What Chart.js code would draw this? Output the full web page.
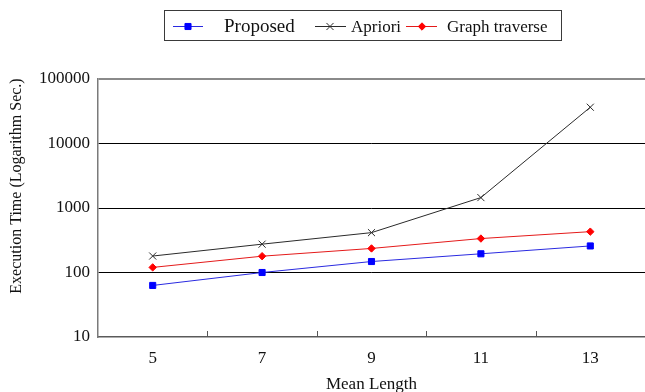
<!DOCTYPE html>
<html>
<head>
<meta charset="utf-8">
<script src="https://cdn.jsdelivr.net/npm/chart.js@4.4.1/dist/chart.umd.min.js"></script>
<style>
  html, body { margin: 0; padding: 0; background: #fff; overflow: hidden; }
  #wrap { width: 645px; height: 392px; position: relative; }
</style>
</head>
<body>
<div id="wrap"><canvas id="chart"></canvas></div>
<script>
// Mean pattern length on the x axis, execution time (seconds, log scale) on y.
const meanLength = [5, 7, 9, 11, 13];
const proposed = [63, 100, 148, 195, 258];
const apriori = [180, 275, 415, 1450, 36500];
const graphTraverse = [120, 179, 236, 336, 430];
const seriesNames = ['Proposed', 'Apriori', 'Graph traverse'];
const yTickValues = [10, 100, 1000, 10000, 100000];
const xLabelValues = [5, 7, 9, 11, 13];
const xMinorTicks = [6, 8, 10, 12];

const SERIF = '"Liberation Serif", "Times New Roman", serif';

function toPoints(values) {
  return meanLength.map((x, i) => ({ x: x, y: values[i] }));
}

// Boxed legend at the top: short line with the series marker, then its name.
const boxedLegend = {
  id: 'boxedLegend',
  afterDraw(chart, args, opts) {
    const ctx = chart.ctx;
    ctx.save();
    ctx.strokeStyle = '#3a3a3a';
    ctx.lineWidth = 1;
    ctx.strokeRect(opts.box.left + 0.5, opts.box.top + 0.5, opts.box.width, opts.box.height);
    chart.data.datasets.forEach((ds, i) => {
      const item = opts.items[i];
      ctx.strokeStyle = ds.borderColor;
      ctx.lineWidth = ds.borderWidth;
      ctx.beginPath();
      ctx.moveTo(item.lineStart, opts.lineY);
      ctx.lineTo(item.lineEnd, opts.lineY);
      ctx.stroke();
      ctx.fillStyle = ds.pointBackgroundColor;
      ctx.strokeStyle = ds.pointBorderColor;
      ctx.lineWidth = ds.pointBorderWidth;
      Chart.helpers.drawPoint(ctx, {
        pointStyle: ds.pointStyle,
        radius: ds.pointRadius,
        rotation: 0,
        borderWidth: ds.pointBorderWidth
      }, item.marker, opts.lineY);
      ctx.fillStyle = '#111';
      ctx.font = item.fontSize + 'px ' + SERIF;
      ctx.textAlign = 'left';
      ctx.textBaseline = 'alphabetic';
      ctx.fillText(ds.label, item.text, opts.textY);
    });
    ctx.restore();
  }
};

// Short inward tick marks on the x axis between the labelled values,
// plus the rotated y axis title.
const axisExtras = {
  id: 'axisExtras',
  afterDraw(chart, args, opts) {
    const ctx = chart.ctx;
    const xs = chart.scales.x;
    const area = chart.chartArea;
    ctx.save();
    ctx.strokeStyle = '#555';
    ctx.lineWidth = 1;
    xMinorTicks.forEach(v => {
      const px = Math.round(xs.getPixelForValue(v)) + 0.5;
      ctx.beginPath();
      ctx.moveTo(px, area.bottom);
      ctx.lineTo(px, area.bottom - opts.tickLength);
      ctx.stroke();
    });
    ctx.translate(opts.yTitleX, opts.yTitleY);
    ctx.rotate(-Math.PI / 2);
    ctx.fillStyle = '#111';
    ctx.font = opts.yTitleSize + 'px ' + SERIF;
    ctx.textAlign = 'center';
    ctx.textBaseline = 'middle';
    ctx.fillText(opts.yTitle, 0, 0);
    ctx.restore();
  }
};

new Chart(document.getElementById('chart'), {
  type: 'line',
  data: {
    datasets: [
      {
        label: seriesNames[0],
        data: toPoints(proposed),
        borderColor: '#2a2ae0',
        borderWidth: 1,
        pointStyle: 'rect',
        pointRadius: 4.3,
        pointBackgroundColor: '#0000ff',
        pointBorderColor: '#0000ff',
        pointBorderWidth: 1
      },
      {
        label: seriesNames[1],
        data: toPoints(apriori),
        borderColor: '#2a2a2a',
        borderWidth: 1,
        pointStyle: 'crossRot',
        pointRadius: 5,
        pointBackgroundColor: '#2a2a2a',
        pointBorderColor: '#2a2a2a',
        pointBorderWidth: 1
      },
      {
        label: seriesNames[2],
        data: toPoints(graphTraverse),
        borderColor: '#e41a1a',
        borderWidth: 1,
        pointStyle: 'rectRot',
        pointRadius: 3.7,
        pointBackgroundColor: '#ff0000',
        pointBorderColor: '#ff0000',
        pointBorderWidth: 1
      }
    ]
  },
  options: {
    responsive: true,
    maintainAspectRatio: false,
    animation: false,
    layout: { autoPadding: false, padding: { top: 79, left: 0, right: 0, bottom: 0 } },
    elements: { line: { tension: 0 } },
    plugins: {
      legend: { display: false },
      tooltip: { enabled: false },
      boxedLegend: {
        box: { left: 164, top: 10, width: 397, height: 30 },
        lineY: 26.5,
        textY: 32,
        items: [
          { lineStart: 173, lineEnd: 203, marker: 188, text: 224, fontSize: 19 },
          { lineStart: 315, lineEnd: 346, marker: 330, text: 351, fontSize: 17 },
          { lineStart: 406, lineEnd: 437, marker: 422, text: 447, fontSize: 17 }
        ]
      },
      axisExtras: {
        tickLength: 6,
        yTitle: 'Execution Time (Logarithm Sec.)',
        yTitleSize: 16,
        yTitleX: 17,
        yTitleY: 186
      }
    },
    scales: {
      x: {
        type: 'linear',
        min: 4,
        max: 14,
        afterFit: s => { s.height = 55; s.paddingRight = 0; },
        border: { display: true, color: '#5a5a5a', width: 1.5 },
        grid: { drawOnChartArea: false, drawTicks: false },
        ticks: {
          stepSize: 1,
          autoSkip: false,
          maxRotation: 0,
          padding: 11,
          color: '#111',
          font: { family: SERIF, size: 17 },
          callback: v => (xLabelValues.includes(v) ? String(v) : '')
        },
        title: {
          display: true,
          text: 'Mean Length',
          color: '#111',
          font: { family: SERIF, size: 17, lineHeight: 0.9 },
          padding: { top: 0, bottom: 0 }
        }
      },
      y: {
        type: 'logarithmic',
        min: 10,
        max: 100000,
        afterFit: s => { s.width = 98; },
        afterBuildTicks: s => { s.ticks = yTickValues.map(v => ({ value: v })); },
        border: { display: true, color: '#7a7a7a', width: 1.5 },
        grid: {
          drawTicks: false,
          color: c => (c.tick.value === 100000 ? '#8a8a8a' : (c.tick.value === 10 ? 'rgba(0,0,0,0)' : '#000')),
          lineWidth: c => (c.tick.value === 100000 ? 2 : 1)
        },
        ticks: {
          autoSkip: false,
          padding: 8,
          color: '#111',
          font: { family: SERIF, size: 17 },
          callback: v => String(v)
        }
      }
    }
  },
  plugins: [boxedLegend, axisExtras]
});
</script>
</body>
</html>
